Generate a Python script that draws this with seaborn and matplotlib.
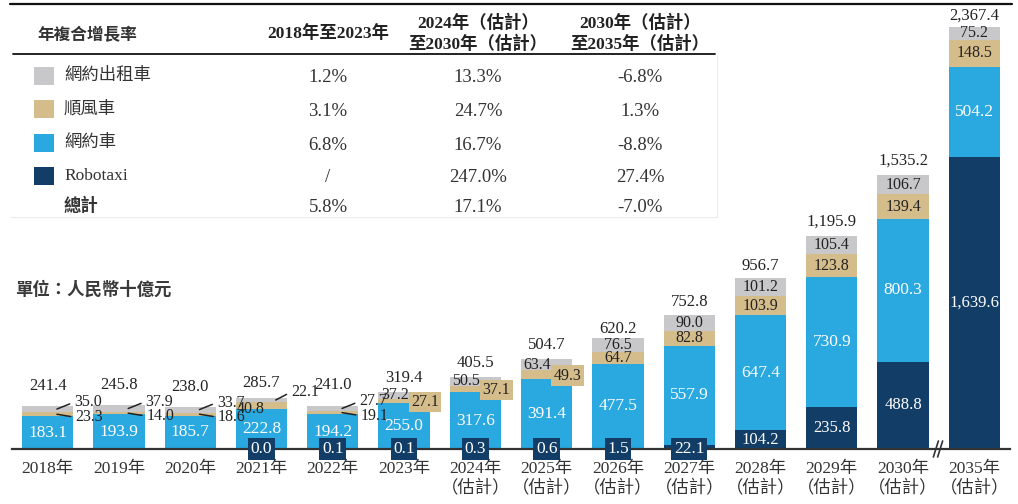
import numpy as np
import pandas as pd
import matplotlib
matplotlib.use('Agg')
import matplotlib.pyplot as plt
from matplotlib.patches import Rectangle
from matplotlib.lines import Line2D
import seaborn as sns

# market size, 人民幣十億元
years = ['2018年', '2019年', '2020年', '2021年', '2022年', '2023年',
         '2024年\n（估計）', '2025年\n（估計）', '2026年\n（估計）', '2027年\n（估計）',
         '2028年\n（估計）', '2029年\n（估計）', '2030年\n（估計）', '2035年\n（估計）']
robotaxi = [np.nan, np.nan, np.nan, 0.0, 0.1, 0.1, 0.3, 0.6, 1.5, 22.1, 104.2, 235.8, 488.8, 1639.6]
ride_hailing = [183.1, 193.9, 185.7, 222.8, 194.2, 255.0, 317.6, 391.4, 477.5, 557.9, 647.4, 730.9, 800.3, 504.2]
carpool = [23.3, 14.0, 18.6, 40.8, 19.1, 27.1, 37.1, 49.3, 64.7, 82.8, 103.9, 123.8, 139.4, 148.5]
taxi = [35.0, 37.9, 33.7, 22.1, 27.7, 37.2, 50.5, 63.4, 76.5, 90.0, 101.2, 105.4, 106.7, 75.2]
totals = [241.4, 245.8, 238.0, 285.7, 241.0, 319.4, 405.5, 504.7, 620.2, 752.8, 956.7, 1195.9, 1535.2, 2367.4]

# CAGR table
series_names = ['網約出租車', '順風車', '網約車', 'Robotaxi', '總計']
period_names = ['2018年至2023年', '2024年（估計）\n至2030年（估計）', '2030年（估計）\n至2035年（估計）']
cagr_18_23 = ['1.2%', '3.1%', '6.8%', '/', '5.8%']
cagr_24_30 = ['13.3%', '24.7%', '16.7%', '247.0%', '17.1%']
cagr_30_35 = ['-6.8%', '1.3%', '-8.8%', '27.4%', '-7.0%']

c_taxi = '#C8C8CA'
c_carpool = '#D5BD8B'
c_ride = '#2AA8E0'
c_robo = '#113D66'
series_colors = [c_taxi, c_carpool, c_ride, c_robo, None]
txt = '#222222'

sns.set_theme(style='white')
plt.rcParams['font.family'] = ['Liberation Serif', 'Noto Sans CJK TC']
sans = ['Noto Sans CJK TC', 'DejaVu Sans']

W, H = 1018, 504
fig = plt.figure(figsize=(W / 100, H / 100), dpi=100)
ax = fig.add_axes([12 / W, 55 / H, 998 / W, 449 / H])

df = pd.DataFrame({'year': years, 'robotaxi': robotaxi, 'ride': ride_hailing,
                   'carpool': carpool, 'taxi': taxi})
df['robo0'] = df['robotaxi'].fillna(0)
df['cum_ride'] = df['robo0'] + df['ride']
df['cum_carpool'] = df['cum_ride'] + df['carpool']
df['cum_total'] = df['cum_carpool'] + df['taxi']

for col, color in [('cum_total', c_taxi), ('cum_carpool', c_carpool),
                   ('cum_ride', c_ride), ('robo0', c_robo)]:
    sns.barplot(data=df, x='year', y=col, color=color, width=0.72, saturation=1,
                errorbar=None, linewidth=0, ax=ax)

ax.set_xlim(-0.5, 13.5)
ax.set_ylim(0, 2517)
ax.set_xlabel('')
ax.set_ylabel('')
ax.set_yticks([])
for s in ['top', 'left', 'right']:
    ax.spines[s].set_visible(False)
ax.spines['bottom'].set_color('#333333')
ax.spines['bottom'].set_linewidth(1.6)
ax.tick_params(axis='x', length=0, pad=9, labelsize=12.5, labelcolor='#333333')
for t in ax.get_xticklabels():
    t.set_linespacing(1.2)
    t.set_family(['Liberation Serif', 'Noto Sans CJK TC'])


def lab(i, y, s, dx=0, dy=0, color=txt, box=None, lead=None, size=11.5):
    kw = {}
    if box is not None:
        kw['bbox'] = dict(boxstyle='square,pad=0.15', fc=box, ec='none')
    if lead is not None:
        kw['arrowprops'] = dict(arrowstyle='-', color=txt, lw=1.1, shrinkA=1, shrinkB=0,
                                relpos=(0, 0.5))
        xy = (i + lead, y)
    else:
        xy = (i, y)
    ax.annotate(s, xy, xytext=(dx if lead is None else dx + lead * 71.3, -dy),
                textcoords='offset pixels', ha='center', va='center', fontsize=size,
                color=color, annotation_clip=False, zorder=5, **kw)


fmt = lambda v: f'{v:,.1f}'
total_gap = [20, 20, 20, 15, 21, 14, 14, 14, 9, 13, 12, 14, 14, 11]

for i in range(len(years)):
    r = df['robo0'][i]
    rd = df['cum_ride'][i]
    cp = df['cum_carpool'][i]
    tt = df['cum_total'][i]
    ygrey = (cp + tt) / 2
    ytan = (rd + cp) / 2

    lab(i, tt, fmt(totals[i]), dy=-total_gap[i], size=12)
    lab(i, (r + rd) / 2, fmt(ride_hailing[i]), color='white', size=12.5)

    if i in (0, 1, 2, 4):
        lab(i, ygrey, fmt(taxi[i]), dx=22, dy=-7, lead=0.13)
        lab(i, ytan, fmt(carpool[i]), dx=23, dy=3, lead=0.13)
    elif i == 3:
        lab(i, ytan, fmt(carpool[i]), dx=-11, dy=3)
        lab(i, ygrey, fmt(taxi[i]), dx=15, dy=-8, lead=0.2)
    elif i in (5, 6, 7):
        lab(i, ygrey, fmt(taxi[i]), dx=-9, dy=0)
        lab(i, ytan, fmt(carpool[i]), dx=21, dy=1, box=c_carpool)
    else:
        lab(i, ygrey, fmt(taxi[i]))
        lab(i, ytan, fmt(carpool[i]))

    if np.isnan(robotaxi[i]):
        continue
    if robotaxi[i] < 50:
        lab(i, 0, fmt(robotaxi[i]), color='white', box=c_robo, size=12.5)
    else:
        lab(i, r / 2, fmt(robotaxi[i]), color='white', size=12)

# axis break between 2030 and 2035
for off in (-0.04, 0.02):
    ax.plot([12.5 + off - 0.035, 12.5 + off + 0.035], [-45, 45], color='#333333',
            lw=1.2, clip_on=False, zorder=6)

# unit note
fig.text(15 / W, 1 - 290 / H, '單位：人民幣十億元', family=sans, fontsize=12.5,
         weight='bold', color='#3a3a3a', va='center', ha='left')

# CAGR table
fig.add_artist(Line2D([10 / W, 1012 / W], [1 - 4 / H, 1 - 4 / H], color='#111111', lw=1.6))
fig.add_artist(Line2D([13 / W, 715 / W], [1 - 54 / H, 1 - 54 / H], color='#111111', lw=1.3))
fig.add_artist(Line2D([717 / W, 717 / W], [1 - 56 / H, 1 - 217 / H], color='#ececec', lw=0.8))
fig.add_artist(Line2D([10 / W, 717 / W], [1 - 217 / H, 1 - 217 / H], color='#ececec', lw=0.8))

fig.text(37 / W, 1 - 35 / H, '年複合增長率', family=sans, fontsize=12, weight='bold',
         color='#333333', va='center', ha='left')
col_x = [328, 478, 640]
for cx, name in zip(col_x, period_names):
    fig.text(cx / W, 1 - 34 / H, name, fontsize=12.5, weight='bold', color=txt,
             va='center', ha='center', linespacing=1.25)

row_y = [76, 109, 143, 176, 206]
for k, name in enumerate(series_names):
    y = 1 - row_y[k] / H
    if series_colors[k] is not None:
        fig.add_artist(Rectangle((34 / W, y - 9 / H), 20 / W, 18 / H,
                                 transform=fig.transFigure, fc=series_colors[k], ec='none'))
        fig.text(64 / W, y, name, fontsize=12.5, color='#333333', va='center', ha='left')
    else:
        fig.text(64 / W, y, name, family=sans, fontsize=12.5, weight='bold',
                 color='#333333', va='center', ha='left')
    for cx, col in zip(col_x, [cagr_18_23, cagr_24_30, cagr_30_35]):
        fig.text(cx / W, y - 2 / H, col[k], fontsize=13.5, color='#333333',
                 va='center', ha='center')

fig.savefig('out.png', dpi=100)
